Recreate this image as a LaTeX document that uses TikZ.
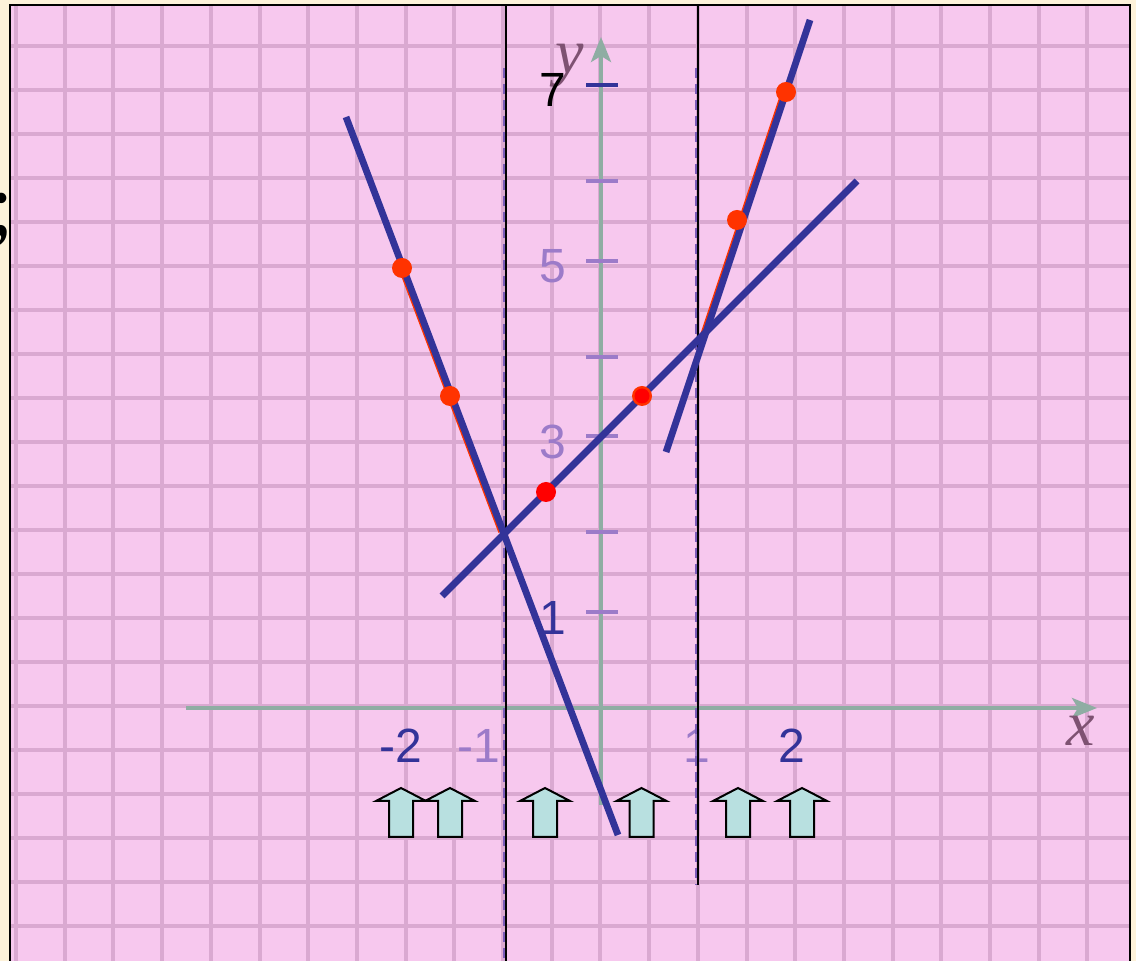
\documentclass[tikz,border=0pt]{standalone}
\usepackage{fontspec}
\setmainfont{Liberation Sans}
\newfontfamily\serifface{Liberation Serif}
\usetikzlibrary{arrows.meta}
\definecolor{cream}{HTML}{FDF2DA}
\definecolor{pinkbg}{HTML}{F7C8EE}
\definecolor{gridc}{HTML}{DAA9D1}
\definecolor{axisc}{HTML}{8FADA3}
\definecolor{blueline}{HTML}{333399}
\definecolor{lilac}{HTML}{9C7BC9}
\definecolor{dashc}{HTML}{7A5CB8}
\definecolor{redline}{HTML}{FF3300}
\definecolor{reddot}{HTML}{FF0000}
\definecolor{arrowc}{HTML}{B8E0E0}
\definecolor{labelc}{HTML}{7E5272}
\tikzset{
  gridline/.style={gridc, line width=2pt},
  axisline/.style={axisc, line width=2pt, -{Stealth[length=12.5pt,width=10pt,inset=3pt]}},
  tickmark/.style={lilac, line width=1.6pt},
  ticklab/.style={inner sep=0pt, font=\fontsize{24}{28}\selectfont},
  varlab/.style={inner sep=0pt, text=labelc, font=\serifface\itshape\fontsize{32}{36}\selectfont},
  graphline/.style={blueline, line width=3.4pt},
  redgraph/.style={redline, line width=2.4pt},
  dotc/.style={fill=redline},
  divider/.style={black, line width=1pt},
  dashdiv/.style={dashc, line width=1.3pt, dash pattern=on 5pt off 3pt},
  uparr/.pic={\draw[black, line width=1pt, fill=arrowc, line join=miter]
     (0,0) -- (25,13) -- (12,13) -- (12,49) -- (-12,49) -- (-12,13) -- (-25,13) -- cycle;}
}
\begin{document}
\begin{tikzpicture}[x=0.5pt,y=-0.5pt]
\useasboundingbox (0,0) rectangle (1136,961);
\clip (0,0) rectangle (1136,961);
\fill[cream] (0,0) rectangle (1136,961);
\node[inner sep=0pt, anchor=base east, font=\serifface\fontsize{44}{48}\selectfont] (semi) at (14,235) {;};
\fill[pinkbg] (10,5) rectangle (1130,961);
% grid
\foreach \k in {0,...,22} \draw[gridline] ({16+48.7*\k},5) -- ({16+48.7*\k},961);
\foreach \k in {1,...,21} \draw[gridline] (10,{2+44*\k}) -- (1130,{2+44*\k});
% border
\draw[black, line width=1pt] (10,961) -- (10,5) -- (1130,5) -- (1130,961);
% axes
\coordinate (xa) at (186,708); \coordinate (xb) at (1097,708);
\coordinate (ya) at (601,805); \coordinate (yb) at (601,37);
\draw[axisline] (xa) -- (xb);
\draw[axisline] (ya) -- (yb);
\node[varlab] (xlab) at (1081,731) {x};
\node[varlab] (ylab) at (570,66) {y};
% ticks
\draw[tickmark, blueline] (586,85) -- (618,85);
\foreach \t in {181,261,357,436,532,612} \draw[tickmark] (586,\t) -- (618,\t);
\node[ticklab, text=black] (l7) at (553,90) {7};
\node[ticklab, text=lilac] (l5) at (553,266) {5};
\node[ticklab, text=lilac] (l3) at (553,442) {3};
\node[ticklab, text=blueline] (l1) at (553,618) {1};
\node[ticklab, text=blueline] (lm2) at (401,746) {-2};
\node[ticklab, text=lilac] (lm1) at (479,746) {-1};
\node[ticklab, text=lilac] (lp1) at (697,746) {1};
\node[ticklab, text=blueline] (lp2) at (792,746) {2};
% dividers
\draw[dashdiv] (504.5,68) -- (504.5,961);
\draw[dashdiv] (696.5,68) -- (696.5,885);
\draw[divider] (506,5) -- (506,961);
\draw[divider] (698,5) -- (698,885);
% red graph
\draw[redgraph] (398.4,262) -- (500.7,532);
\draw[redgraph] (701.5,338) -- (784.8,88);
% blue lines
\coordinate (a1) at (346,117); \coordinate (a2) at (618,835);
\coordinate (b1) at (442,596); \coordinate (b2) at (857,181);
\coordinate (c1) at (666,452); \coordinate (c2) at (810,20);
\draw[graphline] (a1) -- (a2);
\draw[graphline] (b1) -- (b2);
\draw[graphline] (c1) -- (c2);
% dots
\fill[dotc] (402,268) circle[radius=10];
\fill[dotc] (450,396) circle[radius=10];
\fill[reddot] (546,492) circle[radius=10];
\fill[dotc] (642,396) circle[radius=10];
\fill[reddot] (642,396) circle[radius=7.5];
\fill[dotc] (737,220) circle[radius=10];
\fill[dotc] (786,92) circle[radius=10];
% arrows
\pic at (401,788) {uparr};
\pic at (450,788) {uparr};
\pic at (545,788) {uparr};
\pic at (641.5,788) {uparr};
\pic at (738,788) {uparr};
\pic at (802,788) {uparr};
\end{tikzpicture}
\end{document}
